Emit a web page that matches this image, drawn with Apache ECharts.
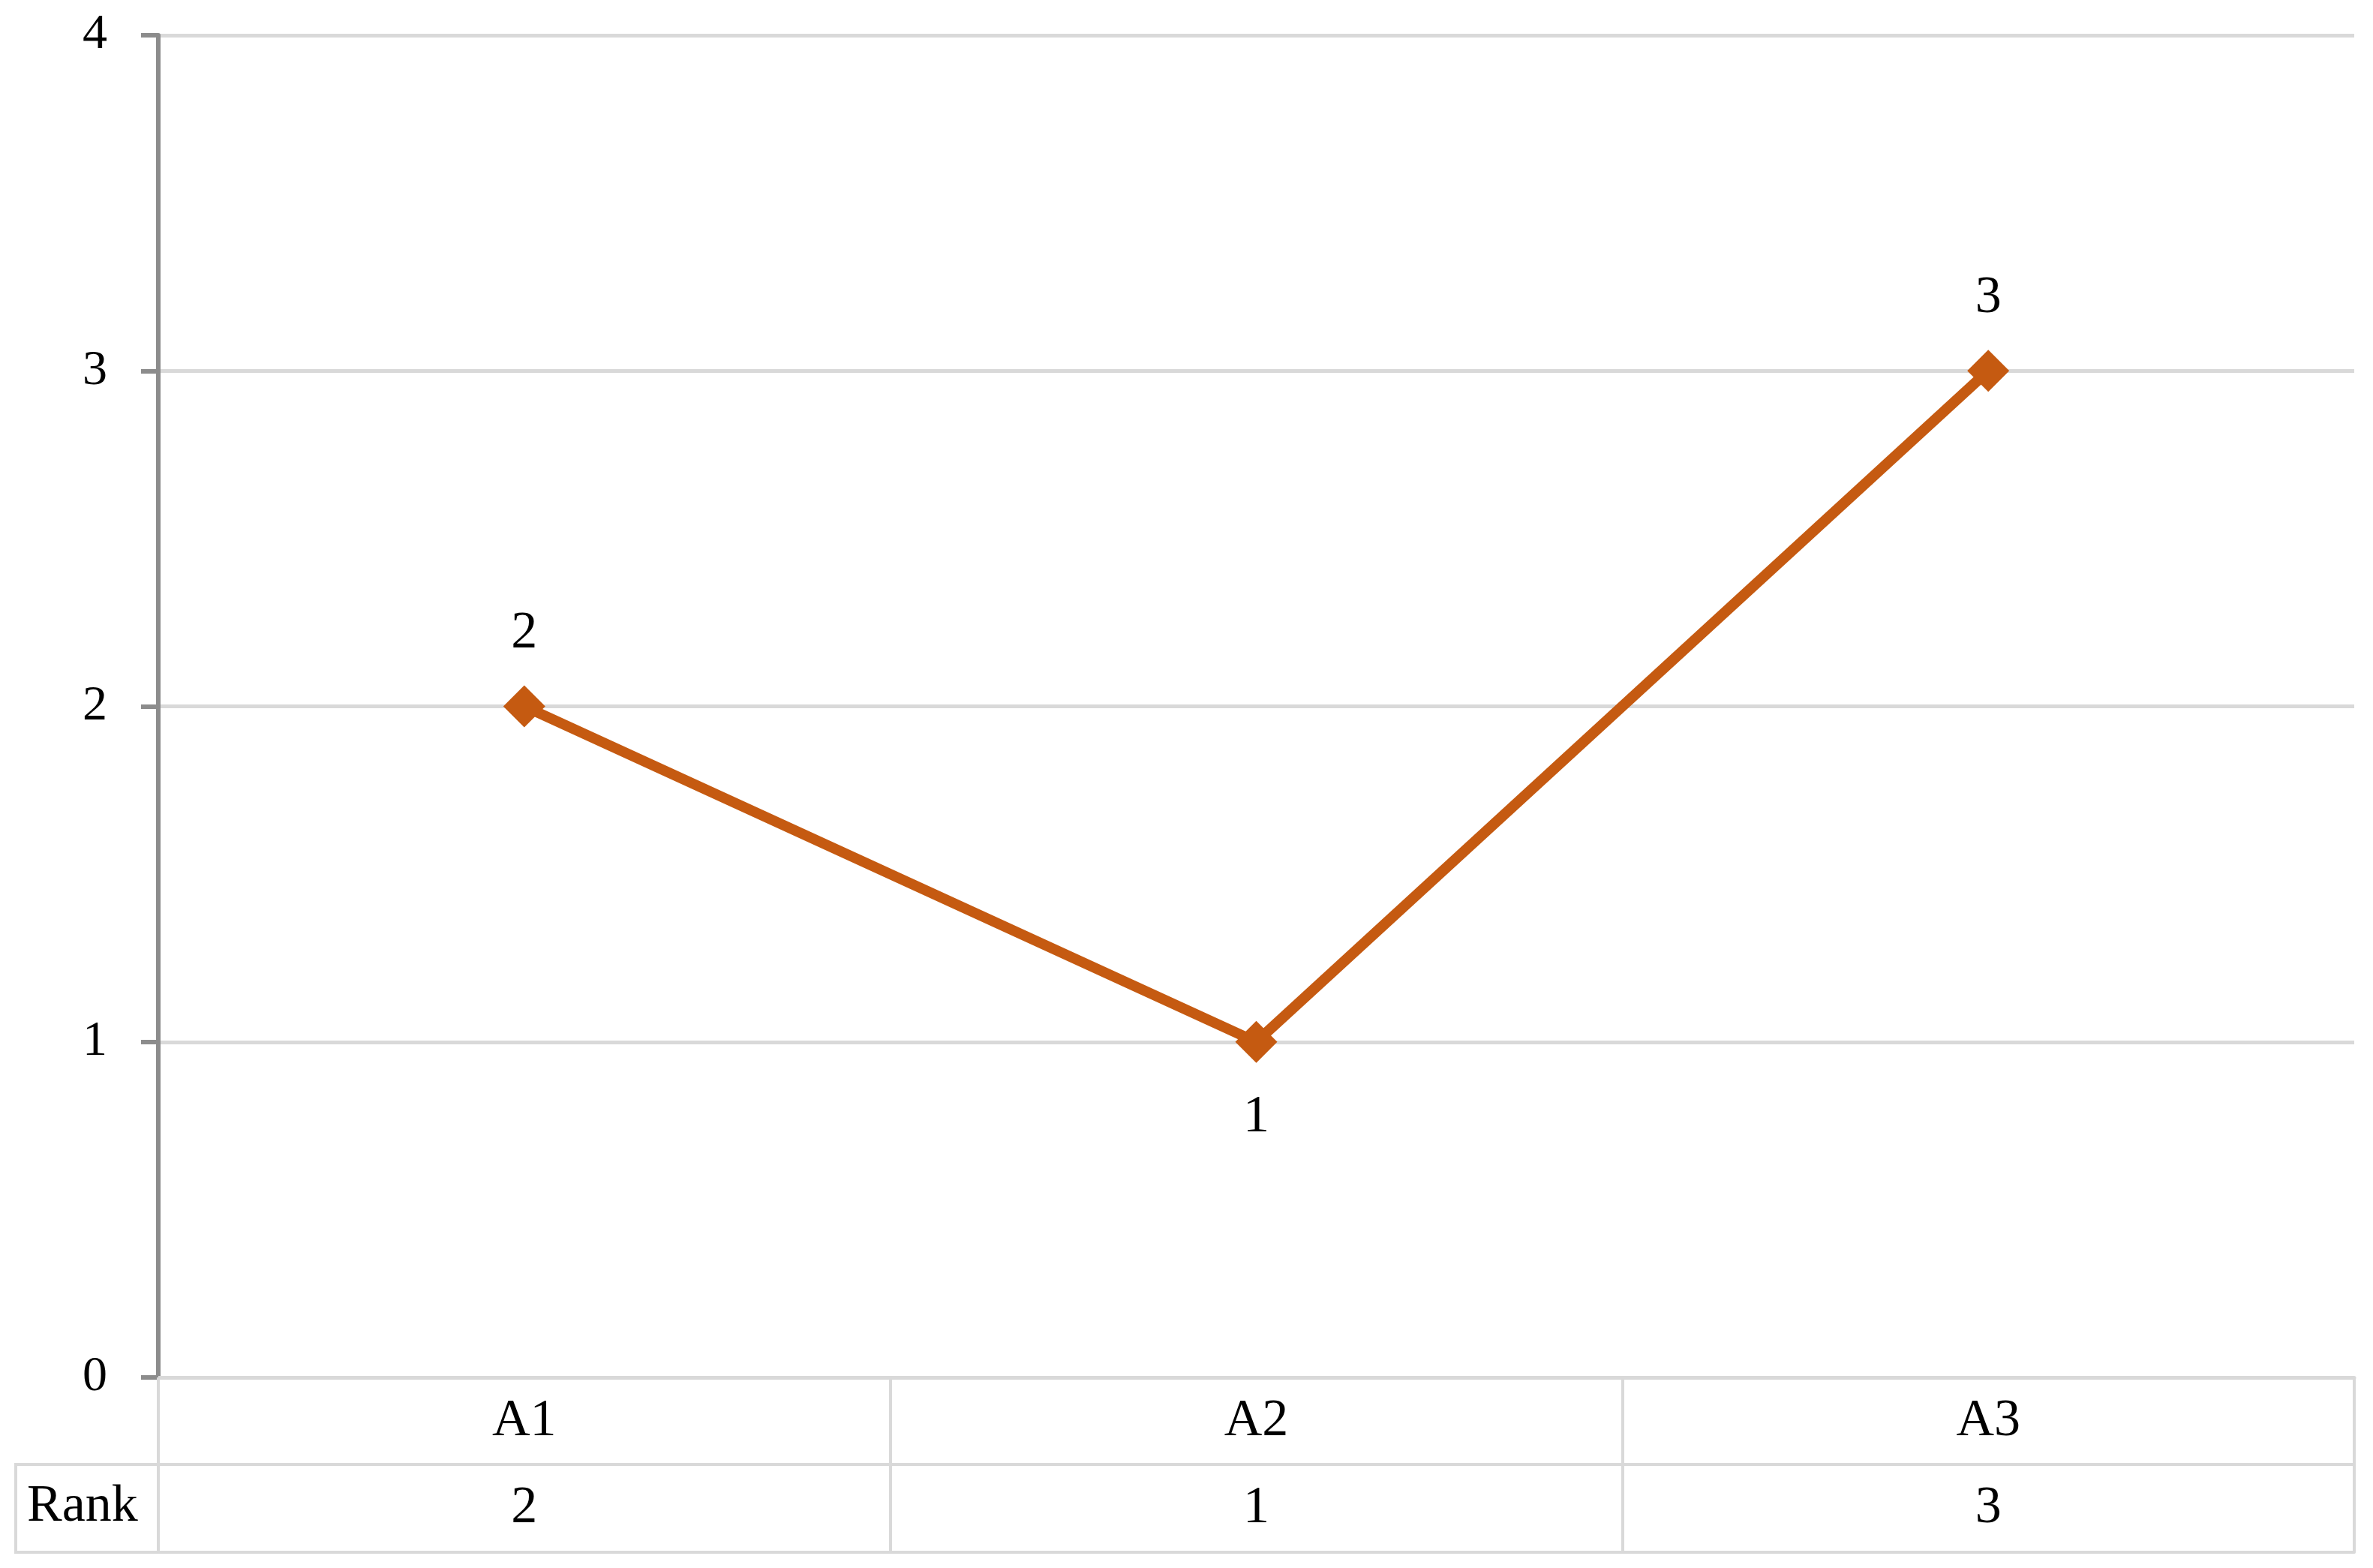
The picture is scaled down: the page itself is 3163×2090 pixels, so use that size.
<!DOCTYPE html>
<html>
<head>
<meta charset="utf-8">
<script src="https://cdn.jsdelivr.net/npm/echarts@6/dist/echarts.min.js"></script>
<style>
  html, body { margin: 0; padding: 0; background: #fff; }
  #chart { width: 3163px; height: 2090px; }
</style>
</head>
<body>
<div id="chart"></div>
<script>
const categories = ['A1', 'A2', 'A3']
const ranks = [2, 1, 3]
const yTicks = [0, 1, 2, 3, 4]
const rowTitle = 'Rank'

const FONT = 'Liberation Serif'
const GRID = '#D9D9D9'
const AXIS = '#8C8C8C'
const LINE = '#C55A11'

// label below a point when it sits lower than its neighbours
const seriesData = ranks.map((v, i) => {
  const prev = i > 0 ? ranks[i - 1] : -Infinity
  const next = i < ranks.length - 1 ? ranks[i + 1] : -Infinity
  const isLow = v < prev && v < next
  return { value: v, label: { position: isLow ? 'bottom' : 'top', distance: isLow ? 38 : 34 } }
})

const chart = echarts.init(document.getElementById('chart'))
const option = {
  backgroundColor: '#fff',
  animation: false,
  textStyle: { fontFamily: FONT },
  grid: { left: 211, right: 25, top: 47, bottom: 254, containLabel: false },
  xAxis: [
    {
      type: 'category',
      data: categories,
      boundaryGap: true,
      position: 'bottom',
      axisLine: { show: true, lineStyle: { color: GRID, width: 5 } },
      axisTick: { show: true, alignWithLabel: false, interval: 0, length: 233, lineStyle: { color: GRID, width: 4 } },
      axisLabel: { margin: 24, fontSize: 70, color: '#000', fontFamily: FONT }
    },
    {
      type: 'category',
      data: categories,
      boundaryGap: true,
      position: 'bottom',
      offset: 116,
      axisLine: { show: true, lineStyle: { color: GRID, width: 4 } },
      axisTick: { show: false },
      axisLabel: {
        margin: 24, fontSize: 70, color: '#000', fontFamily: FONT,
        formatter: (v, i) => String(ranks[i])
      }
    },
    {
      type: 'category',
      data: categories,
      position: 'bottom',
      offset: 233,
      axisLine: { show: true, lineStyle: { color: GRID, width: 4 } },
      axisTick: { show: false },
      axisLabel: { show: false }
    }
  ],
  yAxis: {
    type: 'value',
    min: yTicks[0],
    max: yTicks[yTicks.length - 1],
    interval: 1,
    axisLine: { show: true, lineStyle: { color: AXIS, width: 6 } },
    axisTick: { show: true, length: 23, lineStyle: { color: AXIS, width: 6 } },
    axisLabel: { margin: 68, fontSize: 66, color: '#000', fontFamily: FONT },
    splitLine: { show: true, lineStyle: { color: GRID, width: 5 } }
  },
  graphic: [
    {
      type: 'polyline',
      shape: { points: [[211, 1952], [21, 1952], [21, 2069], [211, 2069]] },
      style: { stroke: GRID, lineWidth: 4, fill: null }
    },
    {
      type: 'text',
      left: 36,
      top: 1974,
      style: { text: rowTitle, fontSize: 70, fontFamily: FONT, fill: '#000' }
    }
  ],
  series: [
    {
      name: rowTitle,
      type: 'line',
      data: seriesData,
      symbol: 'diamond',
      symbolSize: 56,
      lineStyle: { color: LINE, width: 14 },
      itemStyle: { color: LINE },
      label: { show: true, fontSize: 70, color: '#000', fontFamily: FONT }
    }
  ]
}
chart.setOption(option)
</script>
</body>
</html>
